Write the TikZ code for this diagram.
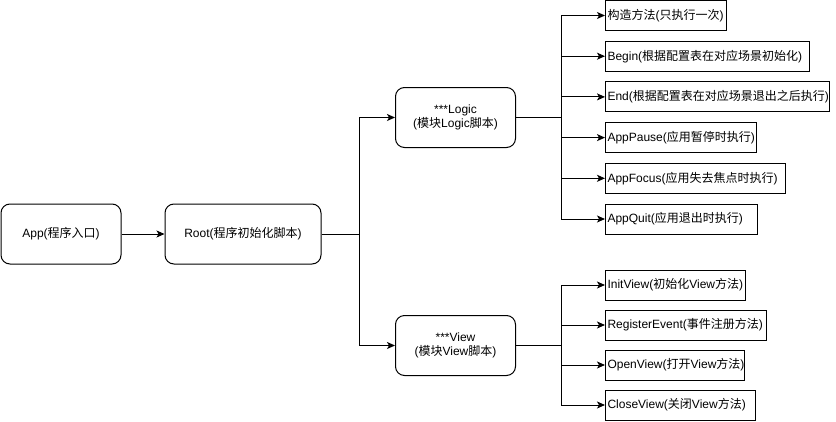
\documentclass[tikz,border=0pt]{standalone}
\usepackage{fontspec}
\setmainfont{Liberation Sans}
\newfontfamily\zhfont{Noto Sans CJK SC}
\newcommand{\zh}[1]{{\zhfont #1}}
\usepackage{tikz}
\usetikzlibrary{arrows.meta,positioning}
\tikzset{
  flow/entry/.style={draw, rounded corners=9pt, line width=1pt, minimum width=120pt, minimum height=60pt, align=center, font=\fontsize{12}{14}\selectfont},
  flow/module/.style={flow/entry, minimum width=120pt},
  flow/method/.style={draw, line width=1pt, minimum height=30pt, inner xsep=2pt, text width=#1, align=left, font=\fontsize{12}{14}\selectfont},
  flow/line/.style={line width=1pt},
  flow/arr/.style={line width=1pt, -{Stealth[length=8pt,width=7pt,inset=2pt]}}
}

\begin{document}
\begin{tikzpicture}[x=1pt, y=1pt]
\useasboundingbox (0,0) rectangle (836,-421);
\node (app) [flow/entry] at (61,-234) {App(\zh{程序入口})};
\node (root) [flow/entry, minimum width=156pt, right=43pt of app] {Root(\zh{程序初始化脚本})};
\node (logic) [flow/module] at (455.5,-117.5) {***Logic\\(\zh{模块}Logic\zh{脚本})};
\node (view) [flow/module] at (455.5,-345.5) {***View\\(\zh{模块}View\zh{脚本})};
% logic methods
\node (ctor) [flow/method=117pt, anchor=west] at (605,-15.5) {\zh{构造方法}(\zh{只执行一次})};
\node (begin) [flow/method=200pt, below=9.7pt of ctor.south west, anchor=north west] {Begin(\zh{根据配置表在对应场景初始化})};
\node (end) [flow/method=220pt, below=9.7pt of begin.south west, anchor=north west] {End(\zh{根据配置表在对应场景退出之后执行})};
\node (pause) [flow/method=147pt, below=9.7pt of end.south west, anchor=north west] {AppPause(\zh{应用暂停时执行})};
\node (focus) [flow/method=176pt, below=9.7pt of pause.south west, anchor=north west] {AppFocus(\zh{应用失去焦点时执行})};
\node (quit) [flow/method=148pt, below=9.7pt of focus.south west, anchor=north west] {AppQuit(\zh{应用退出时执行})};
% view methods
\node (init) [flow/method=136pt, anchor=west] at (605,-285) {InitView(\zh{初始化}View\zh{方法})};
\node (reg) [flow/method=157pt, below=9pt of init.south west, anchor=north west] {RegisterEvent(\zh{事件注册方法})};
\node (open) [flow/method=135pt, below=9pt of reg.south west, anchor=north west] {OpenView(\zh{打开}View\zh{方法})};
\node (close) [flow/method=146pt, below=9pt of open.south west, anchor=north west] {CloseView(\zh{关闭}View\zh{方法})};

\draw[flow/arr] (app) -- (root);
\draw[flow/arr] (root.east) -- ++(38pt,0) |- (logic.west);
\draw[flow/arr] (root.east) -- ++(38pt,0) |- (view.west);
\draw[flow/arr] (logic.east) -- ++(45pt,0) |- (ctor.west);
\draw[flow/arr] (logic.east) -- ++(45pt,0) |- (begin.west);
\draw[flow/arr] (logic.east) -- ++(45pt,0) |- (end.west);
\draw[flow/arr] (logic.east) -- ++(45pt,0) |- (pause.west);
\draw[flow/arr] (logic.east) -- ++(45pt,0) |- (focus.west);
\draw[flow/arr] (logic.east) -- ++(45pt,0) |- (quit.west);
\draw[flow/arr] (view.east) -- ++(45pt,0) |- (init.west);
\draw[flow/arr] (view.east) -- ++(45pt,0) |- (reg.west);
\draw[flow/arr] (view.east) -- ++(45pt,0) |- (open.west);
\draw[flow/arr] (view.east) -- ++(45pt,0) |- (close.west);
\end{tikzpicture}
\end{document}
